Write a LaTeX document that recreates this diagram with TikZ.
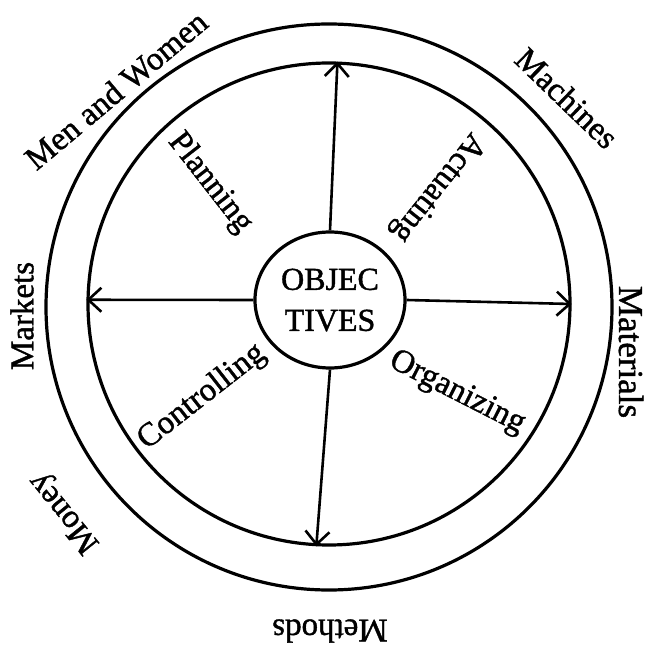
\documentclass[tikz,border=0pt]{standalone}
\usepackage{fontspec}
\setmainfont{Liberation Serif}[FakeBold=1.2]
\usetikzlibrary{arrows.meta,shapes.geometric}
\begin{document}
\begin{tikzpicture}[x=1pt,y=1pt,
  ring/.style={draw, circle, line width=3.2pt, inner sep=0pt},
  spoke/.style={line width=2.6pt, -{Straight Barb[length=13pt,width=24pt,line width=2.6pt]}},
  lab/.style={font=\fontsize{33}{35}\selectfont, inner sep=0pt},
]
\fill[white] (0,0) rectangle (646,646);
\useasboundingbox (0,0) rectangle (646,646);
\node[ring, minimum size=566pt] (outer) at (329,339) {};
\node[ring, minimum size=482pt] (mid) at (329,342) {};
\node[draw, ellipse, line width=3.2pt, minimum width=150pt, minimum height=136pt, inner sep=0pt, align=center, font=\fontsize{32}{41}\selectfont] (obj) at (330,346) {OBJEC\\TIVES};
\draw[spoke] (obj.north) -- (mid.88);
\draw[spoke] (obj.south) -- (mid.267);
\draw[spoke] (obj.west) -- (mid.179);
\draw[spoke] (obj.east) -- (mid.-0.5);
\node[lab, rotate=40] (mw) at (116,556) {Men and Women};
\node[lab, rotate=-44] (mach) at (567,548) {Machines};
\node[lab, rotate=90] (mark) at (22,330) {Markets};
\node[lab, rotate=-90, font=\fontsize{35}{37}\selectfont] (mat) at (631,294) {Materials};
\node[lab, rotate=129] (mon) at (65,134) {Money};
\node[lab, rotate=180] (meth) at (330,15) {Methods};
\node[lab, rotate=-52] (plan) at (210,463) {Planning};
\node[lab, rotate=231.5] (act) at (437,459) {Actuating};
\node[lab, rotate=38] (ctrl) at (202,249) {Controlling};
\node[lab, rotate=-27] (org) at (457,253) {Organizing};
\end{tikzpicture}
\end{document}
